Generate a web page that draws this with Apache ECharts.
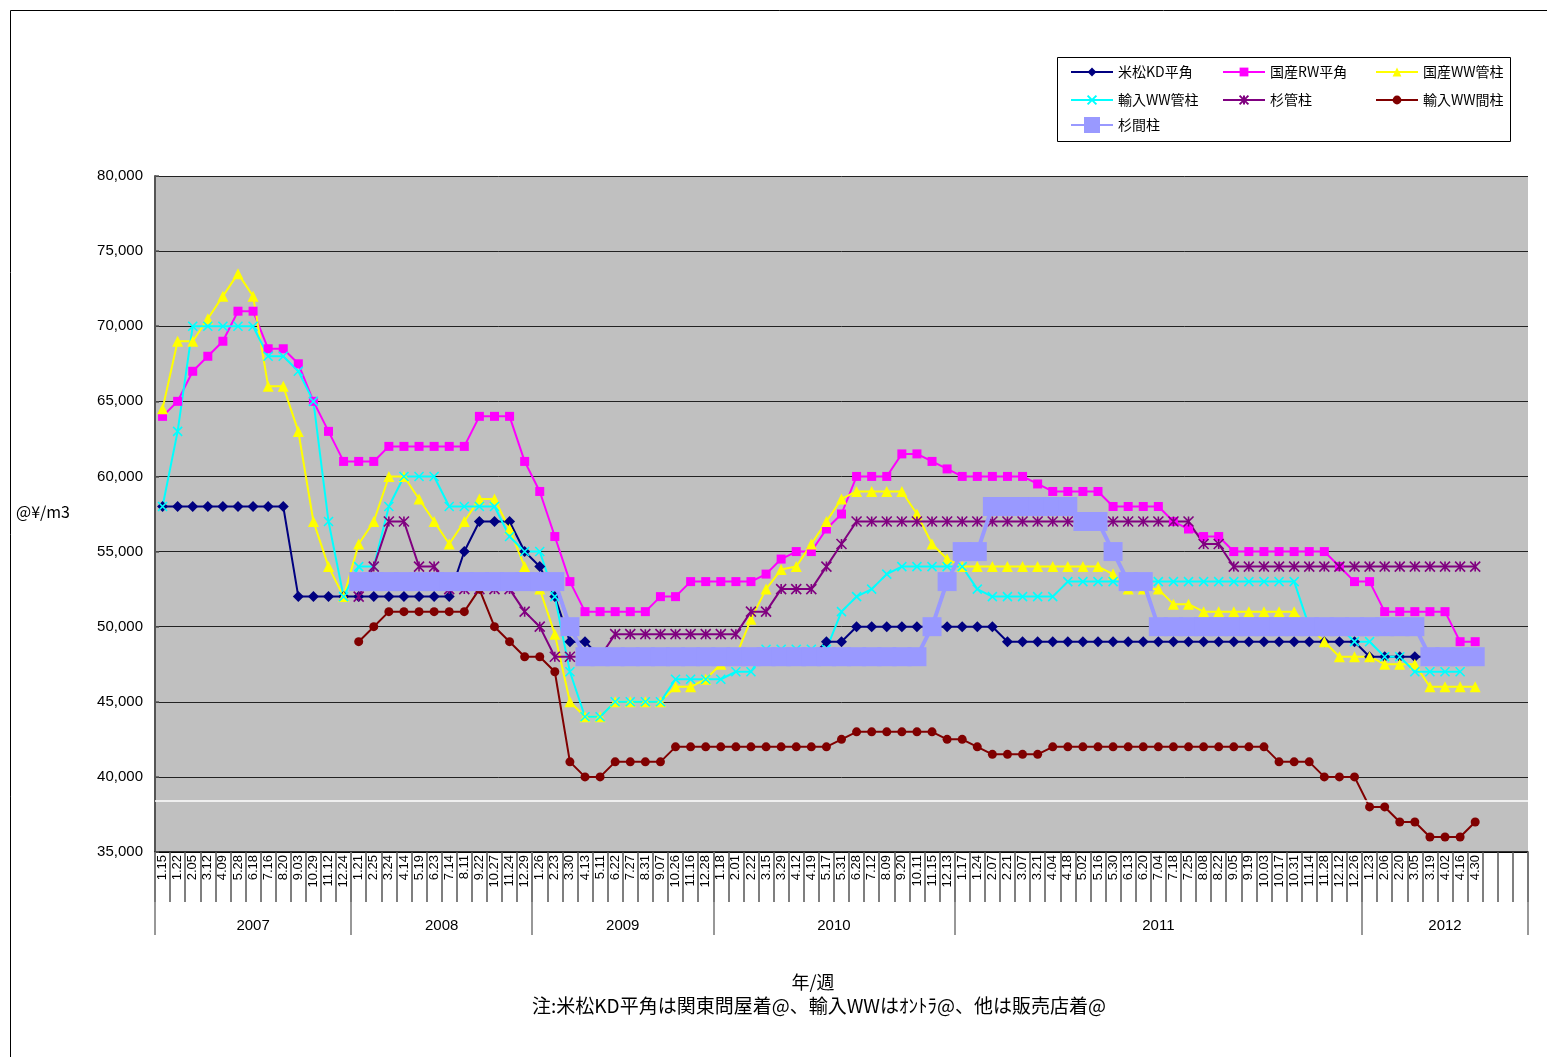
<!DOCTYPE html>
<html>
<head>
<meta charset="utf-8">
<title>木材価格推移</title>
<script src="https://cdn.jsdelivr.net/npm/echarts@6/dist/echarts.min.js"></script>
<style>
  html, body { margin: 0; padding: 0; background: #fff; }
  #chart { width: 1547px; height: 1057px; }
</style>
</head>
<body>
<div id="chart"></div>
<script>
// week labels (month.day), 3 empty slots at the end
const weeks = [
  '1.15','1.22','2.05','3.12','4.09','5.28','6.18','7.16','8.20','9.03','10.29','11.12','12.24',
  '1.21','2.25','3.24','4.14','5.19','6.23','7.14','8.11','9.22','10.27','11.24','12.29',
  '1.26','2.23','3.30','4.13','5.11','6.22','7.27','8.31','9.07','10.26','11.16','12.28',
  '1.18','2.01','2.22','3.15','3.29','4.12','4.19','5.17','5.31','6.28','7.12','8.09','9.20','10.11','11.15','12.13',
  '1.17','1.24','2.07','2.21','3.07','3.21','4.04','4.18','5.02','5.16','5.30','6.13','6.20','7.04','7.18','7.25',
  '8.08','8.22','9.05','9.19','10.03','10.17','10.31','11.14','11.28','12.12','12.26',
  '1.23','2.06','2.20','3.05','3.19','4.02','4.16','4.30',
  '','',''
];
const years = ['2007', '2008', '2009', '2010', '2011', '2012'];
const yearBounds = [0, 13, 25, 37, 53, 80, 91];

const names = ['米松KD平角', '国産RW平角', '国産WW管柱', '輸入WW管柱', '杉管柱', '輸入WW間柱', '杉間柱'];

const beimatsuKD = [
  58000,58000,58000,58000,58000,58000,58000,58000,58000,52000,52000,52000,52000,
  52000,52000,52000,52000,52000,52000,52000,55000,57000,57000,57000,55000,
  54000,52000,49000,49000,48000,48000,48000,48000,48000,48000,48000,48000,
  48000,48000,48000,48000,48000,48000,48000,49000,49000,50000,50000,50000,50000,50000,50000,50000,
  50000,50000,50000,49000,49000,49000,49000,49000,49000,49000,49000,49000,49000,49000,49000,49000,
  49000,49000,49000,49000,49000,49000,49000,49000,49000,49000,49000,
  48000,48000,48000,48000,48000,48000,48000,48000
];
const kokusanRW = [
  64000,65000,67000,68000,69000,71000,71000,68500,68500,67500,65000,63000,61000,
  61000,61000,62000,62000,62000,62000,62000,62000,64000,64000,64000,61000,
  59000,56000,53000,51000,51000,51000,51000,51000,52000,52000,53000,53000,
  53000,53000,53000,53500,54500,55000,55000,56500,57500,60000,60000,60000,61500,61500,61000,60500,
  60000,60000,60000,60000,60000,59500,59000,59000,59000,59000,58000,58000,58000,58000,57000,56500,
  56000,56000,55000,55000,55000,55000,55000,55000,55000,54000,53000,
  53000,51000,51000,51000,51000,51000,49000,49000
];
const kokusanWWkan = [
  64500,69000,69000,70500,72000,73500,72000,66000,66000,63000,57000,54000,52000,
  55500,57000,60000,60000,58500,57000,55500,57000,58500,58500,56500,54000,
  52500,49500,45000,44000,44000,45000,45000,45000,45000,46000,46000,46500,
  47500,48000,50500,52500,53800,54000,55500,57000,58500,59000,59000,59000,59000,57500,55500,54500,
  54000,54000,54000,54000,54000,54000,54000,54000,54000,54000,53500,52500,52500,52500,51500,51500,
  51000,51000,51000,51000,51000,51000,51000,50000,49000,48000,48000,
  48000,47500,47500,47500,46000,46000,46000,46000
];
const yunyuWWkan = [
  58000,63000,70000,70000,70000,70000,70000,68000,68000,67000,65000,57000,52000,
  54000,54000,58000,60000,60000,60000,58000,58000,58000,58000,56000,55000,
  55000,52000,47000,44000,44000,45000,45000,45000,45000,46500,46500,46500,
  46500,47000,47000,48500,48500,48500,48500,48500,51000,52000,52500,53500,54000,54000,54000,54000,
  54000,52500,52000,52000,52000,52000,52000,53000,53000,53000,53000,53000,53000,53000,53000,53000,
  53000,53000,53000,53000,53000,53000,53000,50000,50000,50000,
  49000,49000,48000,48000,47000,47000,47000,47000
];
const sugiKan = [
  null,null,null,null,null,null,null,null,null,null,null,null,null,
  52000,54000,57000,57000,54000,54000,52500,52500,52500,52500,52500,51000,
  50000,48000,48000,48000,48000,49500,49500,49500,49500,49500,49500,49500,
  49500,49500,51000,51000,52500,52500,52500,54000,55500,57000,57000,57000,57000,57000,57000,57000,
  57000,57000,57000,57000,57000,57000,57000,57000,57000,57000,57000,57000,57000,57000,57000,57000,
  55500,55500,54000,54000,54000,54000,54000,54000,54000,54000,54000,
  54000,54000,54000,54000,54000,54000,54000,54000
];
const yunyuWWma = [
  null,null,null,null,null,null,null,null,null,null,null,null,null,
  49000,50000,51000,51000,51000,51000,51000,51000,52500,50000,49000,48000,
  48000,47000,41000,40000,40000,41000,41000,41000,41000,42000,42000,42000,
  42000,42000,42000,42000,42000,42000,42000,42000,42500,43000,43000,43000,43000,43000,43000,42500,
  42500,42000,41500,41500,41500,41500,42000,42000,42000,42000,42000,42000,42000,42000,42000,42000,
  42000,42000,42000,42000,42000,41000,41000,41000,40000,40000,40000,
  38000,38000,37000,37000,36000,36000,36000,37000
];
const sugiMa = [
  null,null,null,null,null,null,null,null,null,null,null,null,null,
  53000,53000,53000,53000,53000,53000,53000,53000,53000,53000,53000,53000,
  53000,53000,50000,48000,48000,48000,48000,48000,48000,48000,48000,48000,
  48000,48000,48000,48000,48000,48000,48000,48000,48000,48000,48000,48000,48000,48000,50000,53000,
  55000,55000,58000,58000,58000,58000,58000,58000,57000,57000,55000,53000,53000,50000,50000,50000,
  50000,50000,50000,50000,50000,50000,50000,50000,50000,50000,50000,
  50000,50000,50000,50000,48000,48000,48000,48000
];
const whiteRule = 38400;

const FONT = '"Noto Sans CJK JP", sans-serif';
const NUMFONT = '"Liberation Sans", "Noto Sans CJK JP", sans-serif';

const cross = 'path://M0,0L10,10M10,0L0,10';
const star = 'path://M0,0L10,10M10,0L0,10M5,0L5,10';

function lineSeries(name, data, color, symbol, size, extra) {
  return Object.assign({
    name: name,
    type: 'line',
    data: data,
    color: color,
    symbol: symbol,
    symbolSize: size,
    showAllSymbol: true,
    lineStyle: { width: 2, color: color },
    itemStyle: { color: color },
    emphasis: { disabled: true }
  }, extra || {});
}

const series = [
  lineSeries(names[0], beimatsuKD, '#000080', 'diamond', 11, {
    markLine: {
      silent: true, symbol: 'none', label: { show: false },
      lineStyle: { color: '#ffffff', width: 1.5, type: 'solid' },
      data: [{ yAxis: whiteRule }]
    }
  }),
  lineSeries(names[1], kokusanRW, '#FF00FF', 'rect', 9),
  lineSeries(names[2], kokusanWWkan, '#FFFF00', 'triangle', 11),
  lineSeries(names[3], yunyuWWkan, '#00FFFF', cross, 9, {
    itemStyle: { color: '#00FFFF', borderColor: '#00FFFF', borderWidth: 1.6 }
  }),
  lineSeries(names[4], sugiKan, '#800080', star, 10, {
    itemStyle: { color: '#800080', borderColor: '#800080', borderWidth: 1.6 }
  }),
  lineSeries(names[5], yunyuWWma, '#800000', 'circle', 9),
  lineSeries(names[6], sugiMa, '#9999FF', 'rect', 19, {
    lineStyle: { width: 4, color: '#9999FF' },
    z: 5
  })
];

// legend: three columns, three rows, one legend per item
const legendCols = [1070, 1222, 1375];
const legendRows = [72, 100, 127];
const legends = names.map((n, i) => {
  const big = i === 6;
  const h = big ? 20 : 11;
  return {
    data: [n],
    left: legendCols[i % 3],
    top: legendRows[Math.floor(i / 3)] - (big ? 10 : 7),
    itemWidth: 42,
    itemHeight: h,
    padding: 0,
    selectedMode: false,
    textStyle: { fontFamily: FONT, fontSize: 14, color: '#000' }
  };
});

const yearCenters = years.map((y, i) => (yearBounds[i] + yearBounds[i + 1]) / 2);

const chart = echarts.init(document.getElementById('chart'), null, { renderer: 'canvas' });
chart.setOption({
  animation: false,
  backgroundColor: '#ffffff',
  grid: { left: 155, right: 19, top: 176, bottom: 205, show: true, backgroundColor: '#C0C0C0', borderWidth: 0 },
  legend: legends,
  xAxis: [
    {
      type: 'category',
      data: weeks,
      boundaryGap: true,
      axisLine: { show: true, lineStyle: { color: '#000', width: 1.5 } },
      axisTick: { show: true, interval: 0, length: 50, lineStyle: { color: '#555', width: 1.5 } },
      axisLabel: { interval: 0, rotate: 90, margin: 3, fontSize: 13, color: '#000', fontFamily: NUMFONT },
      splitLine: { show: false }
    },
    {
      type: 'value',
      min: 0,
      max: 91,
      position: 'bottom',
      axisLine: { show: false },
      splitLine: { show: false },
      axisTick: { show: true, customValues: yearBounds, length: 83, lineStyle: { color: '#777', width: 1.5 } },
      axisLabel: {
        customValues: yearCenters,
        margin: 66,
        fontSize: 15,
        color: '#000',
        fontFamily: NUMFONT,
        formatter: v => years[yearCenters.indexOf(v)] || ''
      }
    }
  ],
  yAxis: {
    type: 'value',
    min: 35000,
    max: 80000,
    interval: 5000,
    axisLine: { show: true, lineStyle: { color: '#555', width: 2 } },
    axisTick: { show: true, length: 4, inside: true, lineStyle: { color: '#555', width: 1.5 } },
    axisLabel: {
      margin: 12, fontSize: 15, color: '#000', fontFamily: NUMFONT,
      formatter: v => v.toLocaleString('en-US')
    },
    splitLine: { lineStyle: { color: '#222', width: 1 } }
  },
  series: series,
  graphic: [
    { type: 'rect', silent: true, shape: { x: 10.5, y: 10.5, width: 1600, height: 1100 },
      style: { fill: 'none', stroke: '#000', lineWidth: 1 } },
    { type: 'rect', silent: true, z: 0, shape: { x: 1057.5, y: 57.5, width: 453, height: 84 },
      style: { fill: '#fff', stroke: '#000', lineWidth: 1 } },
    { type: 'text', silent: true, x: 43, y: 512,
      style: { text: '@¥/m3', font: '16px ' + FONT, fill: '#000', align: 'center', verticalAlign: 'middle' } },
    { type: 'text', silent: true, x: 813, y: 982,
      style: { text: '年/週', font: '18px ' + FONT, fill: '#000', align: 'center', verticalAlign: 'middle' } },
    { type: 'text', silent: true, x: 819, y: 1006,
      style: { text: '注:米松KD平角は関東問屋着@、輸入WWはｵﾝﾄﾗ@、他は販売店着@', font: '19px ' + FONT, fill: '#000', align: 'center', verticalAlign: 'middle' } }
  ]
});
</script>
</body>
</html>
